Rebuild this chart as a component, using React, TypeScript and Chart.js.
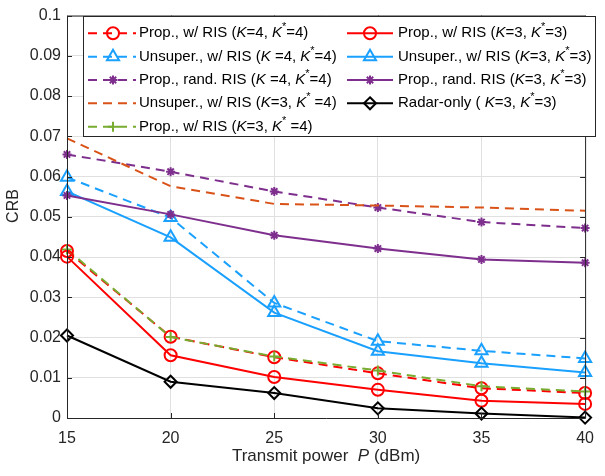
import React, { useEffect, useRef } from "react";
import { Chart, registerables } from "chart.js";

Chart.register(...registerables);

const FONT = "'Liberation Sans', Arial, Helvetica, sans-serif";

const powerDbm = [15, 20, 25, 30, 35, 40];
const yTicks = [0, 0.01, 0.02, 0.03, 0.04, 0.05, 0.06, 0.07, 0.08, 0.09, 0.1];

const propRisK4 = [0.0415, 0.0202, 0.0151, 0.0111, 0.0074, 0.0062];
const unsupRisK4 = [0.0598, 0.0498, 0.0286, 0.0191, 0.0167, 0.0148];
const propRandK4 = [0.0655, 0.0612, 0.0563, 0.0523, 0.0487, 0.0472];
const unsupRisK3K4 = [0.0695, 0.0576, 0.0532, 0.0528, 0.0523, 0.0515];
const propRisK3K4 = [0.0419, 0.0201, 0.0153, 0.0118, 0.0079, 0.0066];
const propRisK3 = [0.0401, 0.0156, 0.0102, 0.0070, 0.0043, 0.0035];
const unsupRisK3 = [0.0563, 0.0449, 0.0262, 0.0166, 0.0136, 0.0113];
const propRandK3 = [0.0553, 0.0506, 0.0454, 0.0421, 0.0394, 0.0386];
const radarOnly = [0.0205, 0.0090, 0.0062, 0.0024, 0.0011, 0.0001];

const seriesLabels = [
  "Prop., w/ RIS ({K}=4, {K}^*=4)",
  "Unsuper., w/ RIS ({K} =4, {K}^*=4)",
  "Prop., rand. RIS ({K} =4, {K}^*=4)",
  "Unsuper., w/ RIS ({K}=3, {K}^* =4)",
  "Prop., w/ RIS ({K}=3, {K}^* =4)",
  "Prop., w/ RIS ({K}=3, {K}^*=3)",
  "Unsuper., w/ RIS ({K}=3, {K}^*=3)",
  "Prop., rand. RIS ({K}=3, {K}^*=3)",
  "Radar-only ( {K}=3, {K}^*=3)",
];

const seriesValues = [
  propRisK4, unsupRisK4, propRandK4, unsupRisK3K4, propRisK3K4,
  propRisK3, unsupRisK3, propRandK3, radarOnly,
];

const RED = "#ff0000";
const BLUE = "#1aa0ff";
const PURPLE = "#7e2f8e";
const ORANGE = "#d95319";
const GREEN = "#77ac30";
const BLACK = "#000000";

type Sty = { color: string; dashed: boolean; marker: string; r: number };
const styles: Sty[] = [
  { color: RED, dashed: true, marker: "circle", r: 6 },
  { color: BLUE, dashed: true, marker: "triangle", r: 7 },
  { color: PURPLE, dashed: true, marker: "star", r: 4.5 },
  { color: ORANGE, dashed: true, marker: "none", r: 0 },
  { color: GREEN, dashed: true, marker: "cross", r: 5 },
  { color: RED, dashed: false, marker: "circle", r: 6 },
  { color: BLUE, dashed: false, marker: "triangle", r: 7 },
  { color: PURPLE, dashed: false, marker: "star", r: 4.5 },
  { color: BLACK, dashed: false, marker: "rectRot", r: 6 },
];

const DASH = [9, 6];

function drawMarker(ctx: CanvasRenderingContext2D, m: string, x: number, y: number, r: number, color: string) {
  if (m === "none") return;
  ctx.save();
  ctx.setLineDash([]);
  ctx.strokeStyle = color;
  ctx.lineWidth = 2;
  ctx.beginPath();
  if (m === "circle") {
    ctx.arc(x, y, r, 0, Math.PI * 2);
  } else if (m === "triangle") {
    for (let i = 0; i < 3; i++) {
      const a = (i * 2 * Math.PI) / 3;
      const px = x + Math.sin(a) * r;
      const py = y - Math.cos(a) * r;
      if (i === 0) ctx.moveTo(px, py);
      else ctx.lineTo(px, py);
    }
    ctx.closePath();
  } else if (m === "star") {
    for (let i = 0; i < 4; i++) {
      const a = (i * Math.PI) / 4;
      ctx.moveTo(x - Math.cos(a) * r, y - Math.sin(a) * r);
      ctx.lineTo(x + Math.cos(a) * r, y + Math.sin(a) * r);
    }
  } else if (m === "cross") {
    ctx.moveTo(x - r, y);
    ctx.lineTo(x + r, y);
    ctx.moveTo(x, y - r);
    ctx.lineTo(x, y + r);
  } else if (m === "rectRot") {
    ctx.moveTo(x, y - r);
    ctx.lineTo(x + r, y);
    ctx.lineTo(x, y + r);
    ctx.lineTo(x - r, y);
    ctx.closePath();
  }
  ctx.stroke();
  ctx.restore();
}

function drawRich(ctx: CanvasRenderingContext2D, text: string, x: number, y: number, size: number, color: string, align: "left" | "center" = "left") {
  const parts = text.split(/(\{[^}]*\}|\^\*)/).filter((p) => p.length > 0);
  const segs = parts.map((p) => {
    if (p.startsWith("{")) return { t: p.slice(1, -1), font: `italic ${size}px ${FONT}`, dy: 0 };
    if (p === "^*") return { t: "*", font: `${Math.round(size * 0.7)}px ${FONT}`, dy: -size * 0.4 };
    return { t: p, font: `${size}px ${FONT}`, dy: 0 };
  });
  ctx.save();
  ctx.fillStyle = color;
  ctx.textBaseline = "middle";
  ctx.textAlign = "left";
  let total = 0;
  for (const s of segs) {
    ctx.font = s.font;
    total += ctx.measureText(s.t).width;
  }
  let cx = align === "center" ? x - total / 2 : x;
  for (const s of segs) {
    ctx.font = s.font;
    ctx.fillText(s.t, cx, y + s.dy);
    cx += ctx.measureText(s.t).width;
  }
  ctx.restore();
}

const overlayPlugin = {
  id: "overlay",
  afterDraw(chart: any) {
    const ctx: CanvasRenderingContext2D = chart.ctx;
    const { left, right, top, bottom } = chart.chartArea;
    const xs = chart.scales.x;
    const ys = chart.scales.y;
    const axisColor = "#262626";
    ctx.save();
    ctx.strokeStyle = axisColor;
    ctx.lineWidth = 1;
    ctx.setLineDash([]);
    ctx.beginPath();
    ctx.rect(left + 0.5, top + 0.5, right - left, bottom - top);
    ctx.stroke();
    const tl = 5;
    ctx.beginPath();
    for (const v of powerDbm) {
      const px = Math.round(xs.getPixelForValue(v)) + 0.5;
      ctx.moveTo(px, bottom);
      ctx.lineTo(px, bottom - tl);
      ctx.moveTo(px, top);
      ctx.lineTo(px, top + tl);
    }
    for (const v of yTicks) {
      const py = Math.round(ys.getPixelForValue(v)) + 0.5;
      ctx.moveTo(left, py);
      ctx.lineTo(left + tl, py);
      ctx.moveTo(right, py);
      ctx.lineTo(right - tl, py);
    }
    ctx.stroke();
    ctx.restore();

    // axis titles
    drawRich(ctx, "Transmit power  {P} (dBm)", (left + right) / 2, 456, 17, axisColor, "center");
    ctx.save();
    ctx.translate(14, 206);
    ctx.rotate(-Math.PI / 2);
    drawRich(ctx, "CRB", 0, 0, 16, axisColor, "center");
    ctx.restore();

    // legend
    const bx = 83, by = 16, bw = 512, bh = 120;
    ctx.save();
    ctx.fillStyle = "#ffffff";
    ctx.fillRect(bx, by, bw, bh);
    ctx.strokeStyle = axisColor;
    ctx.lineWidth = 1;
    ctx.strokeRect(bx + 0.5, by + 0.5, bw, bh);
    ctx.restore();
    const rowY = [33.3, 56.7, 80, 103.3, 126.7];
    const cols = [
      { x0: 88, x1: 136, mx: 113, tx: 139 },
      { x0: 347, x1: 393, mx: 370, tx: 398 },
    ];
    seriesLabels.forEach((lab, i) => {
      const col = i < 5 ? cols[0] : cols[1];
      const y = rowY[i < 5 ? i : i - 5];
      const st = styles[i];
      ctx.save();
      ctx.strokeStyle = st.color;
      ctx.lineWidth = 2;
      ctx.setLineDash(st.dashed ? DASH : []);
      ctx.beginPath();
      ctx.moveTo(col.x0, y);
      ctx.lineTo(col.x1, y);
      ctx.stroke();
      ctx.restore();
      drawMarker(ctx, st.marker, col.mx, y, st.r, st.color);
      drawRich(ctx, lab, col.tx, y, 15, "#000000");
    });
  },
};

export default function App() {
  const ref = useRef<HTMLCanvasElement | null>(null);
  useEffect(() => {
    document.body.style.margin = "0";
    const canvas = ref.current;
    if (!canvas) return;
    const N = seriesValues.length;
    const datasets = seriesValues.map((vals, i) => {
      const st = styles[i];
      return {
        label: seriesLabels[i],
        data: powerDbm.map((x, j) => ({ x, y: vals[j] })),
        borderColor: st.color,
        borderWidth: 2,
        borderDash: st.dashed ? DASH : [],
        pointStyle: st.marker === "none" ? false : st.marker,
        pointRadius: st.r,
        pointBorderWidth: 2,
        pointBorderColor: st.color,
        pointBackgroundColor: "rgba(0,0,0,0)",
        tension: 0,
        fill: false,
        clip: false,
        order: N - 1 - i,
      };
    });
    const chart = new Chart(canvas, {
      type: "line",
      data: { datasets } as any,
      options: {
        animation: false,
        responsive: false,
        maintainAspectRatio: false,
        layout: { padding: { top: 6, right: 8, left: 0, bottom: 0 } },
        plugins: { legend: { display: false }, tooltip: { enabled: false } },
        scales: {
          x: {
            type: "linear",
            min: 15,
            max: 40,
            afterBuildTicks: (s: any) => {
              s.ticks = powerDbm.map((v) => ({ value: v }));
            },
            afterFit: (s: any) => {
              s.height = 58;
            },
            grid: { color: "#e0e0e0", drawTicks: false },
            border: { display: false },
            ticks: {
              padding: 11,
              maxRotation: 0,
              color: "#262626",
              font: { size: 16, family: FONT },
            },
          },
          y: {
            type: "linear",
            min: 0,
            max: 0.1,
            afterBuildTicks: (s: any) => {
              s.ticks = yTicks.map((v) => ({ value: v }));
            },
            afterFit: (s: any) => {
              s.width = 67;
            },
            grid: { color: "#e0e0e0", drawTicks: false },
            border: { display: false },
            ticks: {
              padding: 6,
              color: "#262626",
              font: { size: 16, family: FONT },
              callback: (v: any) => String(Number(Number(v).toFixed(2))),
            },
          },
        },
      } as any,
      plugins: [overlayPlugin],
    });
    return () => chart.destroy();
  }, []);
  return <canvas ref={ref} width={605} height={476} style={{ display: "block" }} />;
}
